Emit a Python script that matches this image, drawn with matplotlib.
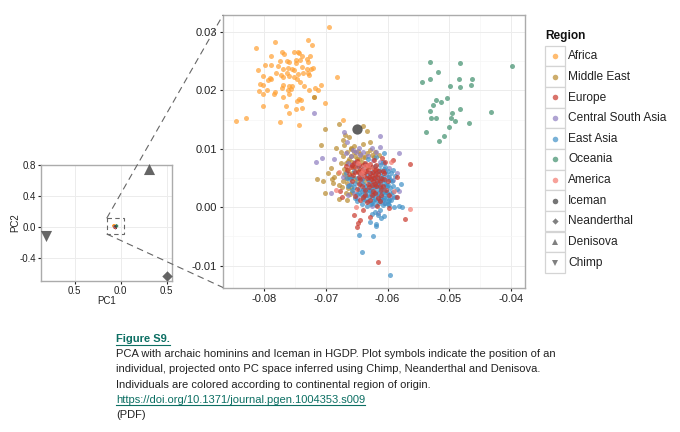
import matplotlib
matplotlib.use('Agg')
import matplotlib.pyplot as plt
from matplotlib.patches import Rectangle

plt.rcParams['font.family'] = ['Liberation Sans', 'DejaVu Sans']
plt.rcParams['axes.unicode_minus'] = False

### values (the dense core is estimated)

africa_x = [-.0695, -.0729, -.0722, -.0783, -.0813, -.0771, -.0767, -.0751, -.0745, -.0743, -.0738, -.0725, -.0788, -.0775, -.0763, -.0760, -.0748, -.0742, -.0730, -.0729, -.0798, -.0789, -.0777, -.0769, -.0762, -.0749, -.0739, -.0721, -.0730, -.0724, -.0810, -.0781, -.0772, -.0763, -.0754, -.0751, -.0745, -.0737, -.0729, -.0727, -.0801, -.0790, -.0794, -.0788, -.0770, -.0760, -.0752, -.0747, -.0682, -.0806, -.0801, -.0770, -.0760, -.0754, -.0742, -.0736, -.0708, -.0718, -.0713, -.0727, -.0809, -.0796, -.0782, -.0771, -.0762, -.0756, -.0784, -.0801, -.0760, -.0770, -.0744, -.0740, -.0747, -.0719, -.0701, -.0801, -.0764, -.0748, -.0739, -.0760, -.0775, -.0744, -.0846, -.0830, -.0672]
africa_y = [.0309, .0287, .0278, .0282, .0273, .0266, .0262, .0265, .0266, .0264, .0258, .0258, .0259, .0250, .0251, .0248, .0252, .0252, .0254, .0248, .0244, .0244, .0241, .0237, .0239, .0246, .0240, .0239, .0237, .0237, .0234, .0230, .0227, .0230, .0237, .0234, .0228, .0230, .0230, .0227, .0225, .0222, .0217, .0220, .0223, .0224, .0223, .0220, .0223, .0211, .0209, .0210, .0208, .0208, .0214, .0208, .0209, .0204, .0201, .0200, .0199, .0201, .0198, .0204, .0201, .0202, .0193, .0193, .0194, .0189, .0185, .0183, .0181, .0188, .0178, .0174, .0173, .0168, .0169, .0161, .0146, .0141, .0148, .0152, .0150]

mideast_x = [-.0678, -.0708, -.0702, -.0640, -.0634, -.0676, -.0684, -.0696, -.0715, -.0704, -.0702, -.0690, -.0679, -.0665, -.0691, -.0686, -.0672, -.0662, -.0669, -.0629, -.0639, -.0659, -.0670, -.0689, -.0678, -.0680, -.0675, -.0621, -.0614, -.0672, -.0666, -.0660, -.0655, -.0650, -.0644, -.0636, -.0628, -.0622, -.0664, -.0671, -.0664, -.0658, -.0672, -.0666, -.0660, -.0655, -.0648, -.0642, -.0634, -.0668, -.0661, -.0650, -.0638, -.0719,
             -.0668, -.0662, -.0658, -.0652, -.0646, -.0640, -.0634, -.0626, -.0670, -.0668, -.0662, -.0656, -.0674, -.0664, -.0658, -.0648, -.0660, -.0654]
mideast_y = [.0143, .0107, .0134, .0139, .0130, .0095, .0101, .0058, .0048, .0044, .0025, .0048, .0014, .0013, .0067, .0052, .0115, .0121, .0123, .0111, .0109, .0101, .0107, .0041, .0038, .0058, .0075, .0095, .0089, .0088, .0095, .0088, .0094, .0083, .0091, .0086, .0098, .0086, .0079, .0066, .0063, .0059, .0045, .0042, .0034, .0050, .0062, .0078, .0068, .0025, .0022, .0044, .0045, .0188,
             .0075, .0083, .0078, .0088, .0083, .0086, .0092, .0090, .0056, .0050, .0052, .0068, .0035, .0032, .0026, .0096, .0100, .0105]

csa_x = [-.0613, -.0612, -.0582, -.0671, -.0716, -.0706, -.0686, -.0692, -.0585, -.0582, -.0719, -.0659, -.0651, -.0666, -.0645, -.0626, -.0664, -.0656, -.0624, -.0605, -.0597, -.0591, -.0672, -.0662, -.0664, -.0594, -.0605, -.0616, -.0629, -.0643,
         -.0668, -.0660, -.0652, -.0647, -.0640, -.0632, -.0618, -.0612, -.0604, -.0600, -.0610, -.0625, -.0640, -.0650, -.0655]
csa_y = [.0122, .0103, .0092, .0129, .0077, .0084, .0083, .0025, .0059, .0028, .0161, .0087, .0095, .0111, .0089, .0101, .0075, .0098, .0081, .0075, .0067, .0047, .0052, .0038, .0021, .0018, .0007, -.0010, .0058, .0047,
         .0092, .0072, .0078, .0102, .0095, .0088, .0094, .0078, .0062, .0052, .0014, .0002, .0030, .0015, .0025]

easia_x = [-.0642, -.0596, -.0647, -.0623, -.0619, -.0619, -.0629, -.0610, -.0606, -.0579, -.0576, -.0581, -.0590, -.0591, -.0605, -.0668, -.0661, -.0664, -.0657, -.0652, -.0655, -.0648, -.0650, -.0646, -.0642, -.0645, -.0640, -.0637, -.0635, -.0639, -.0636, -.0632, -.0633, -.0630, -.0628, -.0631, -.0627, -.0625, -.0622, -.0624, -.0626, -.0621, -.0619, -.0618, -.0616, -.0615, -.0618, -.0613, -.0620, -.0612, -.0610, -.0609, -.0612, -.0607, -.0604, -.0606, -.0603, -.0605, -.0600, -.0601, -.0598, -.0599, -.0596, -.0594, -.0593, -.0591, -.0602, -.0608, -.0634, -.0641, -.0649, -.0658, -.0653, -.0644, -.0638, -.0629, -.0623, -.0617, -.0611, -.0613, -.0600, -.0597, -.0586, -.0585, -.0588, -.0625, -.0615,
           -.0665, -.0660, -.0655, -.0650, -.0647, -.0643, -.0641, -.0640, -.0638, -.0636, -.0634, -.0633, -.0632, -.0630, -.0630, -.0629, -.0627, -.0627, -.0625, -.0625, -.0624, -.0623, -.0622, -.0621, -.0621, -.0620, -.0620, -.0619, -.0618, -.0617, -.0616, -.0616, -.0615, -.0615, -.0614, -.0613, -.0612, -.0611, -.0610, -.0610, -.0609, -.0608, -.0608, -.0607, -.0606, -.0606, -.0605, -.0604, -.0604, -.0603, -.0602, -.0601, -.0600, -.0599, -.0597, -.0596, -.0595, -.0594, -.0592, -.0590]
easia_y = [-.0076, -.0116, -.0048, -.0049, -.0033, -.0028, -.0025, -.0019, -.0015, .0040, .0000, .0002, .0001, .0063, .0092, .0058, .0049, .0037, .0030, .0041, .0062, .0070, .0023, .0031, .0048, .0056, .0014, .0024, .0036, .0065, .0074, .0082, .0055, .0045, .0028, .0010, .0005, .0018, .0034, .0050, .0061, .0071, .0086, .0058, .0043, .0025, .0012, -.0004, -.0008, .0010, .0032, .0049, .0064, .0078, .0068, .0041, .0026, .0015, .0006, .0036, .0051, .0020, .0033, .0012, .0044, .0026, .0057, .0003, .0002, .0005, .0011, .0052, .0016, .0040, .0019, .0039, .0011, .0033, .0054, .0073, .0011, .0003, .0017, .0031, .0054, -.0012, -.0013,
           .0050, .0040, .0035, .0050, .0025, .0020, .0028, .0040, .0032, .0012, .0020, .0030, .0048, .0018, .0030, .0052, .0022, .0035, .0008, .0028, .0040, .0020, .0045, .0014, .0026, .0037, .0052, .0004, .0022, .0042, .0018, .0062, .0036, .0050, .0008, .0028, .0040, .0018, .0046, .0060, .0024, .0012, .0034, .0052, .0022, .0066, .0030, .0008, .0046, .0038, .0016, .0026, .0062, .0038, .0012, .0046, .0024, .0058, .0036, .0018]

europe_x = [-.0616, -.0571, -.0564, -.0655, -.0649, -.0648, -.0645, -.0585, -.0597, -.0637, -.0584, -.0591, -.0674, -.0677, -.0629, -.0639, -.0617, -.0668, -.0660, -.0662, -.0655, -.0650, -.0652, -.0647, -.0645, -.0640, -.0637, -.0642, -.0646, -.0650, -.0640, -.0636, -.0632, -.0631, -.0628, -.0626, -.0629, -.0622, -.0620, -.0617, -.0614, -.0612, -.0618, -.0623, -.0628, -.0633, -.0615, -.0610, -.0608, -.0605, -.0600, -.0604, -.0609, -.0658, -.0653, -.0624, -.0634, -.0643, -.0621, -.0626, -.0619, -.0611, -.0602, -.0597,
            -.0665, -.0658, -.0656, -.0652, -.0648, -.0646, -.0644, -.0641, -.0638, -.0635, -.0633, -.0630, -.0630, -.0627, -.0625, -.0624, -.0622, -.0621, -.0620, -.0618, -.0617, -.0615, -.0613, -.0610, -.0608, -.0606, -.0626, -.0636, -.0644, -.0612]
europe_y = [-.0094, -.0021, .0074, -.0013, -.0034, -.0027, -.0022, .0017, -.0002, .0075, .0051, .0081, .0017, .0028, -.0016, -.0005, .0002, .0071, .0068, .0057, .0075, .0079, .0060, .0052, .0066, .0072, .0060, .0036, .0040, .0031, .0018, .0030, .0040, .0066, .0059, .0054, .0074, .0080, .0064, .0052, .0062, .0044, .0036, .0027, .0012, .0009, .0015, .0021, .0037, .0058, .0045, .0077, .0085, .0045, .0019, .0044, .0050, .0058, .0056, .0068, .0072, .0030, .0030, .0020,
            .0064, .0072, .0055, .0068, .0060, .0072, .0048, .0064, .0054, .0062, .0072, .0052, .0034, .0048, .0038, .0060, .0050, .0040, .0024, .0066, .0044, .0056, .0036, .0050, .0062, .0048, .0020, .0020, .0012, .0010]

america_x = [-.0563, -.0589, -.0684, -.0651, -.0640, -.0632, -.0648, -.0678, -.0594, -.0637, -.0643]
america_y = [-.0003, .0028, .0030, .0000, .0064, .0072, .0075, .0061, .0078, .0070, .0058]

oceania_x = [-.0532, -.0482, -.0399, -.0519, -.0545, -.0532, -.0484, -.0463, -.0499, -.0482, -.0465, -.0504, -.0521, -.0513, -.0527, -.0482, -.0531, -.0496, -.0432, -.0530, -.0521, -.0497, -.0491, -.0468, -.0501, -.0537, -.0509, -.0516]
oceania_y = [.0248, .0246, .0242, .0232, .0214, .0219, .0219, .0219, .0208, .0206, .0209, .0187, .0184, .0180, .0175, .0168, .0165, .0161, .0163, .0152, .0153, .0152, .0148, .0144, .0137, .0128, .0122, .0114]

iceman_x = [-.0650]
iceman_y = [.0133]
neanderthal_x = [.505]
neanderthal_y = [-.64]
denisova_x = [.312]
denisova_y = [.749]
chimp_x = [-.81]
chimp_y = [-.113]

regions = ['Africa', 'Middle East', 'Europe', 'Central South Asia', 'East Asia', 'Oceania', 'America', 'Iceman', 'Neanderthal', 'Denisova', 'Chimp']
region_colors = ['#FFA033', '#B98A2E', '#C9382C', '#8E7DC0', '#4090C6', '#3F8F6C', '#F47A70', '#3A3A3A', '#4A4A4A', '#4A4A4A', '#4A4A4A']
region_markers = ['o', 'o', 'o', 'o', 'o', 'o', 'o', 'o', 'D', '^', 'v']

caption = ['PCA with archaic hominins and Iceman in HGDP. Plot symbols indicate the position of an',
           'individual, projected onto PC space inferred using Chimp, Neanderthal and Denisova.',
           'Individuals are colored according to continental region of origin.']
doi = 'https://doi.org/10.1371/journal.pgen.1004353.s009'

W = 680.
H = 432.
GREY = '#ababab'
TEAL = '#0c6f63'
INK = '#222222'

fig = plt.figure(figsize=(6.8, 4.32), dpi=100)


def make_axes(left, right, top, bottom, fs, pad):
    ax = fig.add_axes([left/W, 1-bottom/H, (right-left)/W, (bottom-top)/H])
    for s in ax.spines.values():
        s.set_color(GREY)
        s.set_linewidth(1.0)
    ax.grid(True, which='major', color='#ececec', linewidth=0.7)
    ax.grid(True, which='minor', color='#f6f6f6', linewidth=0.5)
    ax.set_axisbelow(True)
    ax.tick_params(which='major', labelsize=fs, length=2.5, width=0.8, color='#222222', labelcolor=INK, pad=pad)
    ax.tick_params(which='minor', length=0)
    return ax


def draw_samples(ax, s, big):
    groups = [(africa_x, africa_y, 0), (mideast_x, mideast_y, 1), (csa_x, csa_y, 3), (easia_x, easia_y, 4),
              (europe_x, europe_y, 2), (america_x, america_y, 6), (oceania_x, oceania_y, 5)]
    for gx, gy, i in groups:
        ax.scatter(gx, gy, s=s, c=region_colors[i], alpha=0.7, linewidths=0, zorder=3)
    ax.scatter(iceman_x, iceman_y, s=big, c=region_colors[7], alpha=0.8, linewidths=0, zorder=4)


### main panel
ax = make_axes(223.3, 525.3, 15, 287.5, 8, 2)
draw_samples(ax, 13, 55)
ax.set_xlim(-0.0866, -0.0377)
ax.set_ylim(-0.01375, 0.0329)
ax.set_xticks([-0.08, -0.07, -0.06, -0.05, -0.04])
ax.set_xticklabels(['-0.08', '-0.07', '-0.06', '-0.05', '-0.04'])
ax.set_yticks([-0.01, 0.0, 0.01, 0.02, 0.03])
ax.set_yticklabels(['-0.01', '0.00', '0.01', '0.02', '0.03'])
ax.set_xticks([-0.085, -0.075, -0.065, -0.055, -0.045], minor=True)
ax.set_yticks([-0.005, 0.005, 0.015, 0.025], minor=True)

### small panel with the whole PC space
ax2 = make_axes(40.7, 172.3, 164.7, 281, 7, 0.8)
draw_samples(ax2, 1.5, 4)
ax2.scatter(neanderthal_x, neanderthal_y, s=28, marker='D', c=region_colors[8], alpha=0.85, linewidths=0, zorder=4, clip_on=False)
ax2.scatter(denisova_x, denisova_y, s=64, marker='^', c=region_colors[9], alpha=0.85, linewidths=0, zorder=4, clip_on=False)
ax2.scatter(chimp_x, chimp_y, s=64, marker='v', c=region_colors[10], alpha=0.85, linewidths=0, zorder=4, clip_on=False)
ax2.set_xlim(-0.87, 0.563)
ax2.set_ylim(-0.70, 0.808)
ax2.set_xticks([-0.5, 0.0, 0.5])
ax2.set_xticklabels(['0.5', '0.0', '0.5'])
ax2.set_yticks([-0.4, 0.0, 0.4, 0.8])
ax2.set_yticklabels(['-0.4', '0.0', '0.4', '0.8'])
ax2.set_xlabel('PC1', fontsize=7, color=INK, va='center')
ax2.set_ylabel('PC2', fontsize=7, color=INK, va='center')
ax2.xaxis.set_label_coords(0.5, -0.17)
ax2.yaxis.set_label_coords(-0.195, 0.5)

### overlay in pixels: zoom box, connectors, legend, caption
ov = fig.add_axes([0, 0, 1, 1], zorder=10)
ov.set_xlim(0, W)
ov.set_ylim(H, 0)
ov.axis('off')
ov.patch.set_alpha(0)

ov.add_patch(Rectangle((106.7, 218.3), 17, 15.7, fill=False, edgecolor='#666666', linewidth=0.8, linestyle=(0, (4, 3))))
ov.plot([106.7, 223], [218.3, 15], color='#666666', linewidth=0.8, linestyle=(0, (6, 4)))
ov.plot([106.7, 223], [234, 287.5], color='#666666', linewidth=0.8, linestyle=(0, (6, 4)))

ov.text(545.5, 39, 'Region', fontsize=8.6, fontweight='bold', color='#111111', va='baseline', ha='left')
for i in range(len(regions)):
    yc = 56 + 20.65*i
    ov.add_patch(Rectangle((544.8, yc-10.3), 20.6, 20.6, facecolor='white', edgecolor='#d4d4d4', linewidth=0.9))
    ov.plot([555], [yc], marker=region_markers[i], color=region_colors[i], alpha=0.7,
            markersize=3.2 if region_markers[i] == 'D' else 4.0, markeredgewidth=0, linestyle='None')
    ov.text(568.3, yc+3.2, regions[i], fontsize=8.6, color=INK, va='baseline', ha='left')

t1 = ov.text(116, 342, 'Figure S9.', fontsize=8.0, fontweight='bold', color=TEAL, va='baseline', ha='left')
for i in range(len(caption)):
    ov.text(116, 357 + 15.4*i, caption[i], fontsize=8.0, color=INK, va='baseline', ha='left')
t2 = ov.text(116, 403, doi, fontsize=8.0, color=TEAL, va='baseline', ha='left')
ov.text(116, 418.5, '(PDF)', fontsize=8.0, color=INK, va='baseline', ha='left')

fig.canvas.draw()
for t, yline in [(t1, 344.5), (t2, 405)]:
    ext = t.get_window_extent()
    ov.plot([ext.x0, ext.x1], [yline, yline], color=TEAL, linewidth=0.8)
ov.set_xlim(0, W)
ov.set_ylim(H, 0)

plt.savefig('out.png', dpi=100)
